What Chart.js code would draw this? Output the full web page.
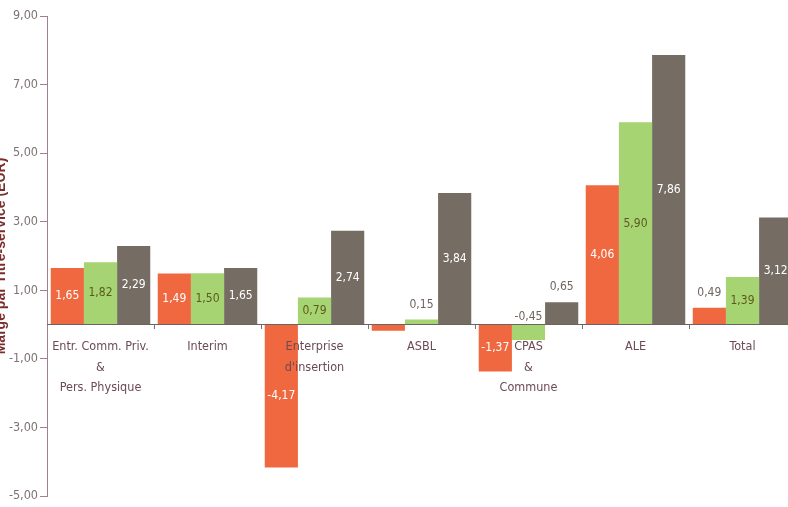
<!DOCTYPE html>
<html>
<head>
<meta charset="utf-8">
<script src="https://cdn.jsdelivr.net/npm/chart.js@4.4.1/dist/chart.umd.min.js"></script>
<style>
  html, body { margin: 0; padding: 0; background: #fff; overflow: hidden; }
  #wrap { position: absolute; left: -7px; top: 0; width: 810px; height: 507px; }
</style>
</head>
<body>
<div id="wrap"><canvas id="margeChart"></canvas></div>
<script>
// categories and values
var categories = [
    ['Entr. Comm. Priv.', '&', 'Pers. Physique'],
    'Interim',
    ['Enterprise', "d'insertion"],
    'ASBL',
    ['CPAS', '&', 'Commune'],
    'ALE',
    'Total'
];
var serie1 = [1.65, 1.49, -4.17, -0.18, -1.37, 4.06, 0.49];
var serie2 = [1.82, 1.50, 0.79, 0.15, -0.45, 5.90, 1.39];
var serie3 = [2.29, 1.65, 2.74, 3.84, 0.65, 7.86, 3.12];
var yTicks = [-5, -3, -1, 1, 3, 5, 7, 9];

var fontFam = "'Liberation Sans Narrow', 'DejaVu Sans Condensed', 'Liberation Sans', sans-serif";

function fmt(v) {
    return v.toFixed(2).replace('.', ',');
}

// value labels drawn on the bars
var valueLabels = {
    id: 'valueLabels',
    afterDatasetsDraw: function(chart) {
        var ctx = chart.ctx;
        ctx.save();
        ctx.font = '12px ' + fontFam;
        ctx.textAlign = 'center';
        ctx.textBaseline = 'middle';
        chart.data.datasets.forEach(function(ds, i) {
            var meta = chart.getDatasetMeta(i);
            meta.data.forEach(function(bar, j) {
                var v = ds.data[j];
                var h = Math.abs(bar.base - bar.y);
                if (v < 0 && h < 10) return; // hidden in the original
                var y, color;
                if (h >= 25) {
                    y = (bar.y + bar.base) / 2;
                    color = ds.labelColor;
                } else if (v < 0) {
                    y = bar.base - 8;
                    color = '#6e6460';
                } else {
                    y = bar.y - 15;
                    color = '#6e6460';
                }
                ctx.fillStyle = color;
                ctx.fillText(fmt(v), bar.x, y);
            });
        });
        ctx.restore();
    }
};

var ctx = document.getElementById('margeChart');
new Chart(ctx, {
    type: 'bar',
    data: {
        labels: categories,
        datasets: [{
            label: 'Série 1',
            data: serie1,
            backgroundColor: '#ef6840',
            labelColor: '#ffffff'
        }, {
            label: 'Série 2',
            data: serie2,
            backgroundColor: '#a6d472',
            labelColor: '#5c5a1e'
        }, {
            label: 'Série 3',
            data: serie3,
            backgroundColor: '#756c64',
            labelColor: '#ffffff'
        }]
    },
    options: {
        responsive: true,
        maintainAspectRatio: false,
        animation: false,
        categoryPercentage: 0.93,
        barPercentage: 1.0,
        layout: { padding: { top: 16, bottom: 11, left: 0, right: 7 } },
        plugins: {
            legend: { display: false },
            tooltip: { enabled: false }
        },
        scales: {
            x: {
                position: { y: 0 },
                grid: {
                    drawOnChartArea: false,
                    drawTicks: true,
                    tickLength: 4,
                    color: '#7a7070'
                },
                border: { color: '#6a6464', width: 1, z: 1 },
                ticks: {
                    z: 1, // category text sits on top of the bars
                    color: '#6b4a55',
                    padding: 8,
                    maxRotation: 0,
                    autoSkip: false,
                    font: { family: fontFam, size: 12.5, lineHeight: 1.65 }
                }
            },
            y: {
                min: -5,
                max: 9,
                afterBuildTicks: function(scale) {
                    scale.ticks = yTicks.map(function(v) { return { value: v }; });
                },
                afterFit: function(scale) { scale.width = 54; },
                grid: {
                    drawOnChartArea: false,
                    drawTicks: true,
                    tickLength: 7,
                    color: '#a08090'
                },
                border: { color: '#a08090', width: 1 },
                ticks: {
                    color: '#7d7276',
                    padding: 2,
                    font: { family: fontFam, size: 12.5 },
                    callback: function(v) { return fmt(v); }
                },
                title: {
                    display: true,
                    text: 'Marge par Titre-service (EUR)',
                    color: '#7b2d2d',
                    padding: { top: 0, bottom: 0 },
                    font: { family: "'Liberation Sans', Arial, sans-serif", size: 14, weight: 'bold' }
                }
            }
        }
    },
    plugins: [valueLabels]
});
</script>
</body>
</html>
